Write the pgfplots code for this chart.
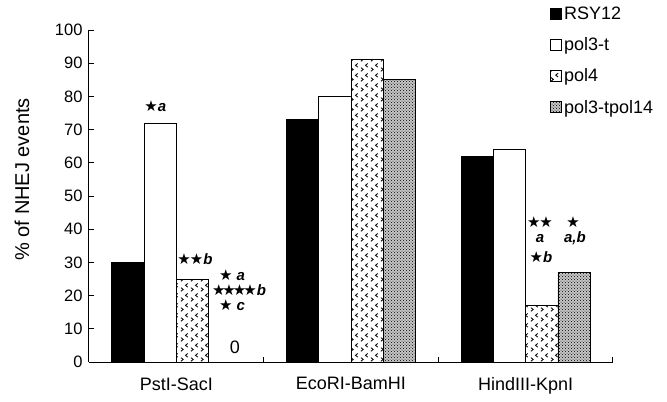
\documentclass[border=0pt]{standalone}
\usepackage{pgfplots}
\pgfplotsset{compat=1.18}
\usepackage{pgfplotstable}
\usetikzlibrary{patterns}
\usepackage{fontspec}
\setmainfont{Liberation Sans}
\newfontfamily\djv{DejaVu Sans}
\newcommand\st{{\fontsize{15}{15}\djv\char"2605}}
\newcommand\ann{\fontsize{15}{15}\selectfont\bfseries\itshape}
\tikzset{ann/.style={font=\ann, inner sep=0pt}}

\pgfdeclarepatternformonly{chevrons}{\pgfqpoint{0pt}{0pt}}{\pgfqpoint{10pt}{10pt}}{\pgfqpoint{10pt}{10pt}}{%
 \pgfsetlinewidth{0.9pt}%
 \pgfpathmoveto{\pgfqpoint{1pt}{0.8pt}}\pgfpathlineto{\pgfqpoint{3.5pt}{2.8pt}}\pgfpathlineto{\pgfqpoint{1pt}{4.8pt}}%
 \pgfpathmoveto{\pgfqpoint{8.5pt}{5.3pt}}\pgfpathlineto{\pgfqpoint{6pt}{7.3pt}}\pgfpathlineto{\pgfqpoint{8.5pt}{9.3pt}}%
 \pgfusepath{stroke}}

\pgfplotstableread{
x rsy pol3t pol4 pol34
0 30 72 25 0
1 73 80 91 85
2 62 64 17 27
}\data

\begin{document}
\begin{tikzpicture}
\begin{axis}[
  scale only axis,
  width=524pt, height=332pt,
  ybar=0pt, bar width=32.3pt,
  xmin=-0.5, xmax=2.5, ymin=0, ymax=100,
  enlargelimits=false,
  axis x line*=bottom, axis y line*=left,
  axis line style={-, line width=1pt},
  xtick={-0.5,0.5,1.5,2.5},
  xticklabels={},
  extra x ticks={0,1,2},
  extra x tick labels={PstI-SacI, EcoRI-BamHI, HindIII-KpnI},
  extra x tick style={major tick length=0pt},
  ytick={0,10,...,100},
  tick align=inside,
  major tick length=5pt,
  every tick/.style={black, line width=1pt},
  /pgf/number format/assume math mode=true,
  yticklabel style={font=\fontsize{16.5}{16.5}\selectfont, xshift=-3pt},
  xticklabel style={font=\fontsize{18}{18}\selectfont, yshift=-12pt},
  ylabel={\% of NHEJ events},
  ylabel style={font=\fontsize{20}{20}\selectfont, at={(rel axis cs:-0.128,0.55)}, anchor=center},
  legend style={at={(rel axis cs:0.88,1.075)}, anchor=north west, draw=none, fill=none,
     font=\fontsize{18}{18}\selectfont, row sep=12.5pt, inner sep=0pt, cells={anchor=west}},
  legend cell align=left,
  legend image code/.code={\draw[#1, line width=0.8pt] (0pt,-5.5pt) rectangle (11pt,5.5pt);},
  clip=false,
]
\addplot[draw=black, line width=0.8pt, fill=black] table[x=x,y=rsy]{\data};
\addplot[draw=black, line width=0.8pt, fill=white] table[x=x,y=pol3t]{\data};
\addplot[draw=black, line width=0.8pt, fill=white, postaction={pattern=chevrons}] table[x=x,y=pol4]{\data};
\addplot[draw=black, line width=0.8pt, fill=gray!45, postaction={pattern=crosshatch dots}] table[x=x,y=pol34]{\data};
\legend{RSY12, pol3-t, pol4, pol3-tpol14}

\node[ann] at (axis cs:-0.12,77) {\st a};
\node[ann] at (axis cs:0.107,31) {\st\kern-1pt\st b};
\node[ann] at (axis cs:0.319,26.2) {\st\ a};
\node[ann] at (axis cs:0.359,21.7) {\st\kern-3pt\st\kern-3pt\st\kern-3pt\st b};
\node[ann] at (axis cs:0.319,17.2) {\st\ c};
\node[font=\fontsize{18}{18}\selectfont] at (axis cs:0.336,4.5) {0};
\node[ann] at (axis cs:2.082,42) {\st\kern-1pt\st};
\node[ann] at (axis cs:2.082,37.3) {a};
\node[ann] at (axis cs:2.088,31.6) {\st b};
\node[ann] at (axis cs:2.271,42) {\st};
\node[ann] at (axis cs:2.282,37.3) {a,b};

\coordinate (bl) at (rel axis cs:-0.1698,-0.1175);
\coordinate (tr) at (rel axis cs:1.1031,1.0904);
\end{axis}
\pgfresetboundingbox
\path (bl) rectangle (tr);
\end{tikzpicture}
\end{document}
